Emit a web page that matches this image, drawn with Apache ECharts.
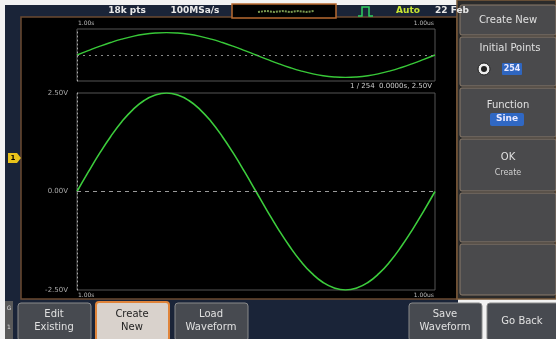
<!DOCTYPE html>
<html><head><meta charset="utf-8">
<script src="https://cdn.jsdelivr.net/npm/echarts@6/dist/echarts.min.js"></script>
<style>html,body{margin:0;padding:0;background:#fff}#c{width:556px;height:339px}</style>
</head><body><div id="c"></div>
<script>
const waveV = [0.00,0.49,0.96,1.39,1.77,2.08,2.31,2.45,2.50,2.45,2.31,2.08,1.77,1.39,0.96,0.49,0.00,
  -0.49,-0.96,-1.39,-1.77,-2.08,-2.31,-2.45,-2.50,-2.45,-2.31,-2.08,-1.77,-1.39,-0.96,-0.49,0.00];
const sampleIdx = waveV.map((_, i) => i);
const yTicks = [-2.5, 0, 2.5];
const timeLabels = ['1.00s', '1.00us'];
const cursorLabel = '1 / 254  0.0000s, 2.50V';
const topBar = ['18k pts', '100MSa/s', 'Auto', '22 Feb'];
const sideMenu = ['Create New', 'Initial Points', '254', 'Function', 'Sine', 'OK', 'Create'];
const bottomMenu = ['Edit\nExisting', 'Create\nNew', 'Load\nWaveform', 'Save\nWaveform', 'Go Back'];

const F = '"DejaVu Sans", sans-serif';
function R(x, y, w, h, fill, stroke, r, z, lw) {
  return {type:'rect', z: z||-5, silent:true, shape:{x, y, width:w, height:h, r:r||0},
    style:{fill, stroke: stroke||null, lineWidth: lw||1}};
}
function T(x, y, text, size, fill, align, bold, z) {
  return {type:'text', z: z||10, silent:true, style:{x, y, text, fill,
    font: (bold?'bold ':'') + size + 'px ' + F, align: align||'center', verticalAlign:'middle', lineHeight: size+3}};
}
const g = [
  R(0,0,556,339,'#f2f2f2'),
  R(5,5,453,334,'#1a2438'),
  R(21,17,436,282,'#000','#6b4a30',0,-4,1.5),
  // left marker
  {type:'polygon', z:5, silent:true, shape:{points:[[8,153],[17,153],[21,158],[17,163],[8,163]]}, style:{fill:'#e8c21a'}},
  T(13,158,'1',7,'#000','center',true),
  // top bar
  T(127,11,topBar[0],9,'#e8e8e8','center',true),
  T(195,11,topBar[1],9,'#e8e8e8','center',true),
  R(232,4,104,14,'#000','#b86a30',0,-3,1.5),
  {type:'polyline', z:5, silent:true, shape:{points:[[258,12],[266,11],[274,12],[282,11],[290,12],[298,11],[306,12],[314,11]]}, style:{stroke:'#7a9a50', lineWidth:2, lineDash:[2,1]}},
  {type:'polyline', z:5, silent:true, shape:{points:[[358,16],[362,16],[362,7],[369,7],[369,16],[373,16]]}, style:{stroke:'#2fd060', fill:null, lineWidth:1.5}},
  T(408,11,topBar[2],9,'#c8e632','center',true),
  T(452,11,topBar[3],9,'#e8e8e8','center',true),
  // right panel
  R(457,0,99,299,'#2b2b2b','#7a5a3a',0,-4,1.5),
  R(460,5,96,30,'#4a4a4c','#8a7a6a',2,-3),
  T(508,20,sideMenu[0],10,'#e0e0e0'),
  R(460,37,96,49,'#4a4a4c','#8a7a6a',2,-3),
  T(510,48,sideMenu[1],10,'#e0e0e0'),
  {type:'circle', z:5, silent:true, shape:{cx:484, cy:69, r:6}, style:{fill:'#eee', stroke:'#222', lineWidth:1}},
  {type:'circle', z:6, silent:true, shape:{cx:484, cy:69, r:3}, style:{fill:'#222'}},
  R(502,63,20,12,'#2f66c0',null,1,-2),
  T(512,69,sideMenu[2],8,'#e8e8ff','center',true),
  R(460,88,96,49,'#4a4a4c','#8a7a6a',2,-3),
  T(508,105,sideMenu[3],10,'#e0e0e0'),
  R(490,113,34,13,'#3068c4',null,2,-2),
  T(507,119,sideMenu[4],9,'#e8e8ff','center',true),
  R(460,139,96,52,'#4a4a4c','#8a7a6a',2,-3),
  T(508,157,sideMenu[5],10,'#e0e0e0'),
  T(508,173,sideMenu[6],8,'#d0d0d0'),
  R(460,193,96,49,'#4a4a4c','#8a7a6a',2,-3),
  R(460,244,96,51,'#4a4a4c','#8a7a6a',2,-3),
  // bottom
  R(5,301,8,38,'#5a5a5a',null,0,-3),
  T(9,308,'G',6,'#ddd'), T(9,327,'1',6,'#ddd'),
  R(18,303,73,38,'#474a50','#8a8a8a',3,-3),
  T(54,321,bottomMenu[0],10,'#e0e0e0'),
  R(96,302,73,39,'#d9d2cc','#e0843a',3,-3,2),
  T(132,321,bottomMenu[1],10,'#222'),
  R(175,303,73,38,'#474a50','#8a8a8a',3,-3),
  T(211,321,bottomMenu[2],10,'#e0e0e0'),
  R(409,303,73,38,'#474a50','#8a8a8a',3,-3),
  T(445,321,bottomMenu[3],10,'#e0e0e0'),
  R(487,303,73,38,'#474a50','#8a8a8a',3,-3),
  T(522,321,bottomMenu[4],10,'#e0e0e0'),
  // time labels
  T(78,23,timeLabels[0],6,'#bbb','left'),
  T(434,23,timeLabels[1],6,'#bbb','right'),
  T(78,295,timeLabels[0],6,'#bbb','left'),
  T(434,295,timeLabels[1],6,'#bbb','right'),
  T(432,86,cursorLabel,7,'#ccc','right')
];

const chart = echarts.init(document.getElementById('c'), null, {renderer:'canvas'});
const gridStyle = {show:true, borderColor:'#555', borderWidth:1, backgroundColor:'transparent'};
chart.setOption({
  animation:false,
  backgroundColor:'transparent',
  graphic: g,
  grid:[
    Object.assign({left:77, top:29, width:358, height:52}, gridStyle),
    Object.assign({left:77, top:93, width:358, height:197}, gridStyle)
  ],
  xAxis:[
    {gridIndex:0, type:'category', data:sampleIdx, boundaryGap:false, axisLine:{show:false}, axisTick:{show:false}, axisLabel:{show:false}, splitLine:{show:false}},
    {gridIndex:1, type:'category', data:sampleIdx, boundaryGap:false, axisLine:{show:false}, axisTick:{show:false}, axisLabel:{show:false}, splitLine:{show:false}}
  ],
  yAxis:[
    {gridIndex:0, type:'value', min:-2.9, max:2.9, axisLabel:{show:false}, axisTick:{show:false}, splitLine:{show:false},
      axisLine:{show:true, lineStyle:{color:'#aaa', type:[1,3], width:1}}},
    {gridIndex:1, type:'value', min:yTicks[0], max:yTicks[2], interval:2.5, axisTick:{show:false}, splitLine:{show:false},
      axisLine:{show:true, lineStyle:{color:'#aaa', type:[1,3], width:1}},
      axisLabel:{show:true, color:'#aaa', fontSize:7, fontFamily:F, margin:9, formatter:v=>v.toFixed(2)+'V'}}
  ],
  series:[
    {type:'line', xAxisIndex:0, yAxisIndex:0, data:waveV, showSymbol:false, smooth:true,
      lineStyle:{color:'#38c838', width:1.4},
      markLine:{silent:true, symbol:'none', label:{show:false}, lineStyle:{color:'#888', type:[2,4], width:1}, data:[{yAxis:0}]}},
    {type:'line', xAxisIndex:1, yAxisIndex:1, data:waveV, showSymbol:false, smooth:true,
      lineStyle:{color:'#3ccc3c', width:1.6},
      markLine:{silent:true, symbol:'none', label:{show:false}, lineStyle:{color:'#999', type:[4,4], width:1}, data:[{yAxis:0}]}}
  ]
});
</script></body></html>
